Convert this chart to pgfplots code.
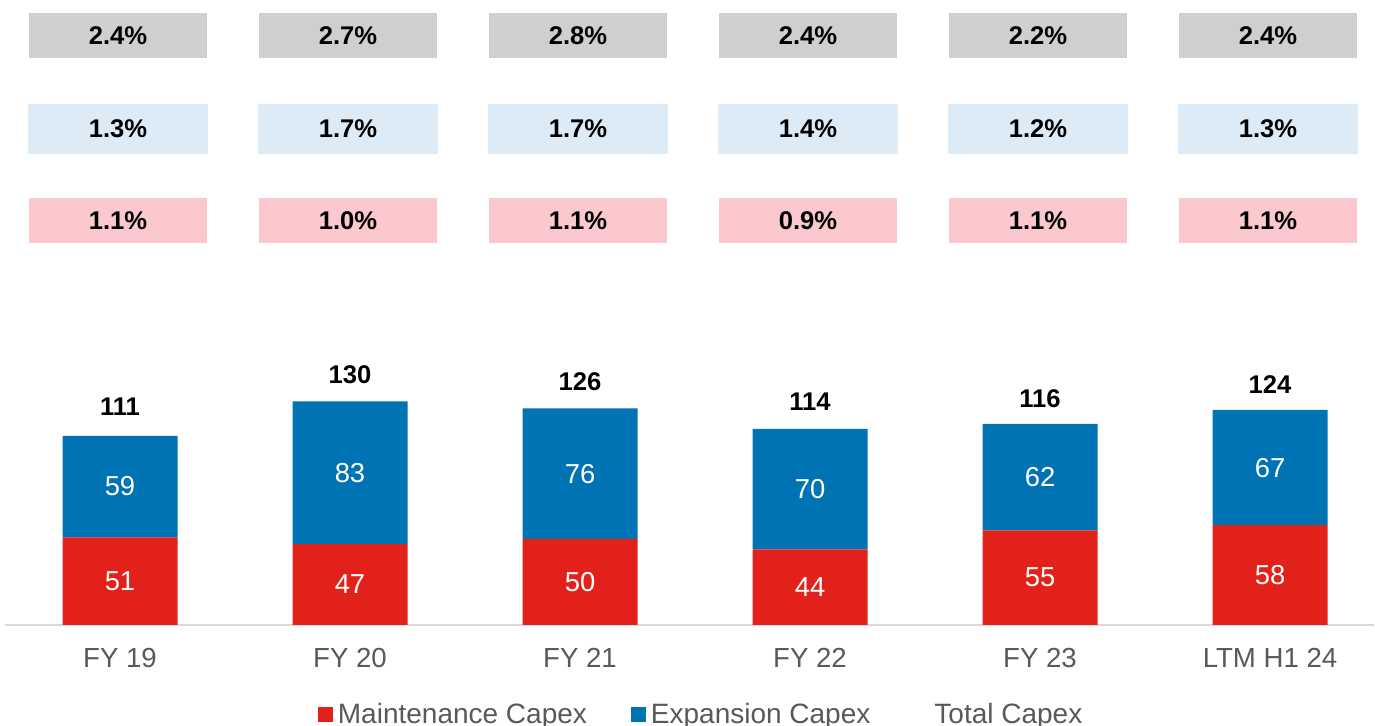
\documentclass[border=0pt]{standalone}
\usepackage{pgfplots}
\pgfplotsset{compat=1.18}
\usepackage{pgfplotstable}
\usepackage{fontspec}
\setmainfont{Liberation Sans}
\definecolor{mred}{HTML}{E3211B}
\definecolor{mblue}{HTML}{0073B5}
\definecolor{boxgray}{HTML}{D0CECE}
\definecolor{boxblue}{HTML}{DDEBF7}
\definecolor{boxpink}{HTML}{FAC8CD}
\definecolor{txtgray}{HTML}{595959}
\definecolor{axgray}{HTML}{D9D9D9}

\pgfplotstableread{
x m e t
0 51 59 111
1 47 83 130
2 50 76 126
3 44 70 114
4 55 62 116
5 58 67 124
}\capex

\pgfplotstableread{
x tot exp mai
0 2.4 1.3 1.1
1 2.7 1.7 1.0
2 2.8 1.7 1.1
3 2.4 1.4 0.9
4 2.2 1.2 1.1
5 2.4 1.3 1.1
}\pct

\pgfplotsset{
  common/.style={scale only axis, width=684.25pt, height=312.5pt,
    xmin=-0.5, xmax=5.45, ymin=0, ymax=363.37, clip=false},
  pctbox/.style={draw=none, mark=none, nodes near coords,
    point meta=explicit,
    nodes near coords={\pgfmathprintnumber[fixed,fixed zerofill,precision=1]{\pgfplotspointmeta}\%},
    every node near coord/.append style={anchor=center, fill=#1, minimum width=89pt,
      minimum height=22.5pt, inner sep=0pt, xshift=-1pt, text=black,
      font=\bfseries\fontsize{12.8}{14}\selectfont}},
}

\begin{document}
\begin{tikzpicture}
\begin{axis}[common, name=ax,
  ybar stacked, bar width=57.5pt,
  axis x line*=bottom, axis y line=none,
  axis line style={axgray, line width=1pt, -},
  xtick=data, xticklabels={FY 19,FY 20,FY 21,FY 22,FY 23,LTM H1 24},
  xtick style={draw=none}, major tick length=0pt,
  xticklabel style={font=\fontsize{13.8}{16}\selectfont, text=txtgray, anchor=north, inner sep=0pt, yshift=-11.5pt},
  legend style={at={(0.5094,0)}, anchor=center, yshift=-45pt, draw=none, fill=none,
    legend columns=3, font=\fontsize{14}{16}\selectfont, text=txtgray,
    /tikz/every even column/.append style={column sep=20pt},
    inner sep=0pt},
  legend cell align=left,
]
\addplot[fill=mred, draw=none,
  legend image code/.code={\fill[mred] (0pt,-3.75pt) rectangle (7.5pt,3.75pt); \path (8pt,0pt);}]
  table[x=x,y=m]{\capex};
\addlegendentry{Maintenance Capex}
\addplot[fill=mblue, draw=none,
  legend image code/.code={\fill[mblue] (0pt,-3.75pt) rectangle (7.5pt,3.75pt); \path (8pt,0pt);}]
  table[x=x,y=e]{\capex};
\addlegendentry{Expansion Capex}
\addlegendimage{legend image code/.code={\path[draw=none,fill=none] (0pt,-3.75pt) rectangle (8pt,3.75pt);}}
\addlegendentry{Total Capex}
\end{axis}

\begin{axis}[common, hide axis, /pgf/number format/assume math mode=true]
% segment values
\addplot[draw=none, mark=none, nodes near coords, point meta=explicit,
  every node near coord/.append style={anchor=center, text=white, font=\fontsize{13.7}{15}\selectfont}]
  table[x=x, y expr=\thisrow{m}/2, meta=m]{\capex};
\addplot[draw=none, mark=none, nodes near coords, point meta=explicit,
  every node near coord/.append style={anchor=center, text=white, font=\fontsize{13.7}{15}\selectfont}]
  table[x=x, y expr=\thisrow{m}+\thisrow{e}/2, meta=e]{\capex};
% totals
\addplot[draw=none, mark=none, nodes near coords, point meta=explicit,
  every node near coord/.append style={anchor=center, yshift=13.5pt, text=black, font=\bfseries\fontsize{12.8}{14}\selectfont}]
  table[x=x, y=t, meta=t]{\capex};
% percentage boxes
\addplot[pctbox=boxgray] table[x=x, y expr=342.7, meta=tot]{\pct};
\addplot[pctbox=boxblue, every node near coord/.append style={minimum height=25pt, minimum width=90pt}] table[x=x, y expr=288.4, meta=exp]{\pct};
\addplot[pctbox=boxpink] table[x=x, y expr=235.2, meta=mai]{\pct};
\end{axis}
\pgfresetboundingbox
\path[use as bounding box] ([xshift=-2.5pt,yshift=-50.5pt]ax.south west) rectangle ([xshift=0.75pt]ax.north east);
\end{tikzpicture}
\end{document}
